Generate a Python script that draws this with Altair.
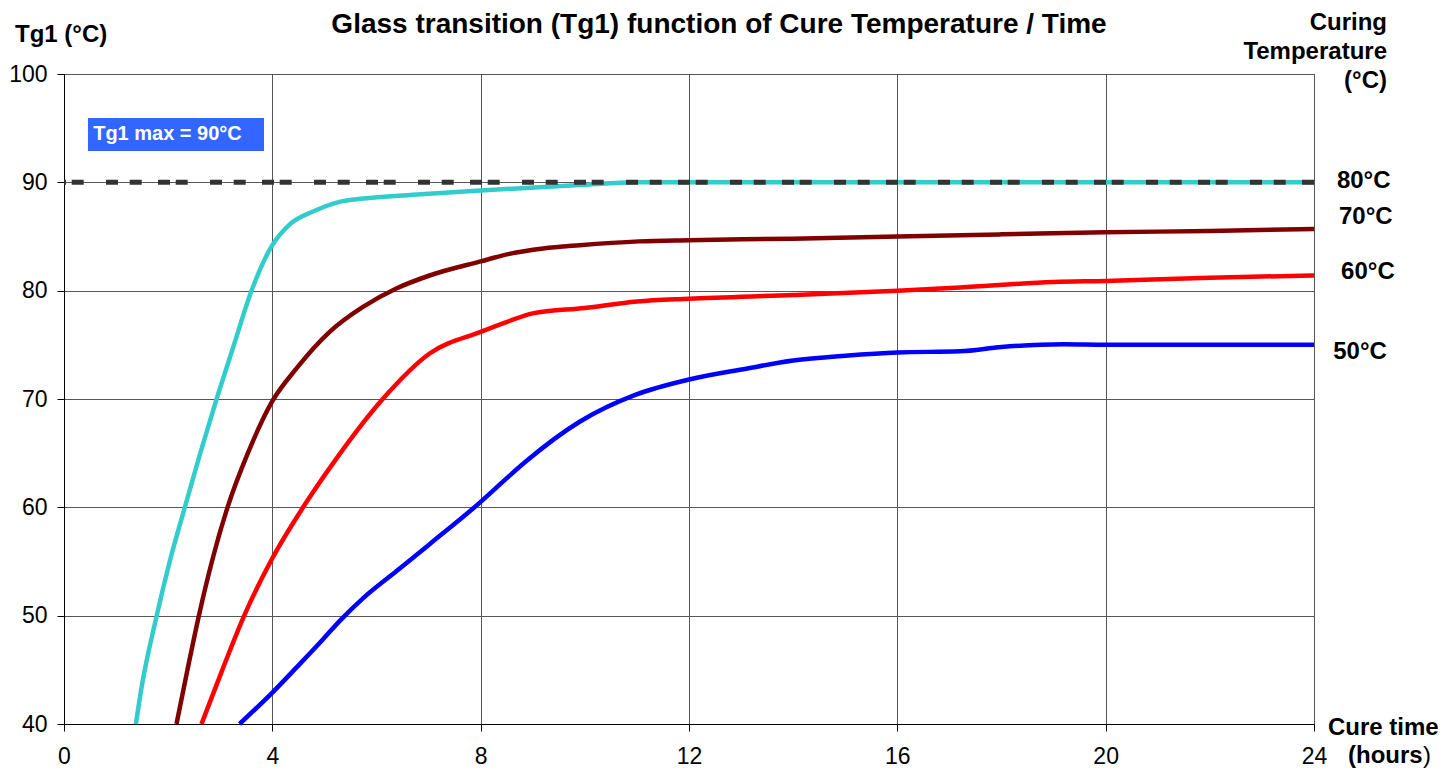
import altair as alt
import pandas as pd

# ---------------- data ----------------
series_names = ["80°C", "70°C", "60°C", "50°C"]
series_colors = ["#33CCCC", "#800000", "#FF0000", "#0000FF"]

hours_80 = [1.38, 1.49, 1.78, 2.03, 2.32, 2.61, 2.93, 3.25, 3.6, 4.0, 4.33, 4.78, 5.29, 5.74, 6.7, 8.0, 9.9, 11.0, 12, 16, 20, 24]
tg_80 = [40, 43.4, 50, 55, 60, 64.9, 70, 74.8, 80, 84.2, 86.1, 87.3, 88.2, 88.5, 88.85, 89.25, 89.75, 90, 90, 90, 90, 90]

hours_70 = [2.16, 2.37, 2.59, 2.84, 3.14, 3.53, 4.0, 4.46, 5.1, 5.74, 6.38, 7.02, 8.0, 8.55, 9.2, 9.9, 11.04, 12, 14, 16, 18, 20, 22, 24]
tg_70 = [40, 45, 50, 55, 60, 65, 69.8, 72.8, 76.2, 78.5, 80.2, 81.4, 82.7, 83.4, 83.9, 84.2, 84.55, 84.66, 84.8, 85.0, 85.2, 85.4, 85.5, 85.7]

hours_60 = [2.64, 3.04, 3.46, 4.0, 4.59, 5.23, 6.12, 7.02, 8.0, 8.55, 9, 10, 11, 12, 14, 16, 17.2, 19, 20, 22, 24]
tg_60 = [40, 45, 50, 55.3, 60, 64.5, 70, 74.2, 76.2, 77.2, 77.9, 78.4, 79.0, 79.26, 79.6, 80.0, 80.3, 80.8, 80.9, 81.2, 81.4]

hours_50 = [3.37, 4.0, 4.46, 4.97, 5.29, 5.74, 6.38, 7.02, 8.0, 8.55, 8.86, 9.9, 10.98, 12, 13.1, 14, 15, 16, 17.2, 18, 19.2, 20, 24]
tg_50 = [40, 42.9, 45.2, 47.8, 49.5, 51.6, 54.1, 56.6, 60.5, 62.9, 64.2, 67.9, 70.4, 71.8, 72.8, 73.55, 74.0, 74.3, 74.4, 74.8, 75.05, 75.0, 75.0]

x_ticks = [0, 4, 8, 12, 16, 20, 24]
y_ticks = [40, 50, 60, 70, 80, 90, 100]

tg_max = [90]

# end-of-line labels (x in hours, y in °C)
label_text = ["80°C", "70°C", "60°C", "50°C"]
label_x = [24.44, 24.48, 24.52, 24.37]
label_y = [90.1, 86.8, 81.7, 74.3]

# "Tg1 max" annotation box (data coordinates)
box_x = [0.46]
box_x2 = [3.84]
box_y = [92.9]
box_y2 = [95.94]
box_text = ["Tg1 max = 90°C"]
box_text_x = [0.56]
box_text_y = [94.5]

# ---------------- build ----------------
rows = []
for name, hs, ts in [("80°C", hours_80, tg_80), ("70°C", hours_70, tg_70),
                     ("60°C", hours_60, tg_60), ("50°C", hours_50, tg_50)]:
    for i, (h, t) in enumerate(zip(hs, ts)):
        rows.append({"series": name, "hours": h, "tg": t, "order": i})
df = pd.DataFrame(rows)

FONT = "Liberation Sans"

x_scale = alt.Scale(domain=[0, 24], nice=False, zero=False)
y_scale = alt.Scale(domain=[40, 100], nice=False, zero=False)

x_axis = alt.Axis(values=x_ticks, title=None, labelFont=FONT, labelFontSize=23, labelColor="black",
                  tickSize=7, tickColor="black", domainColor="black", labelPadding=14,
                  gridColor="#555555", gridWidth=1, labelFlush=False, labelOverlap=False, format="d")
y_axis = alt.Axis(values=y_ticks, title=None, labelFont=FONT, labelFontSize=23, labelColor="black",
                  tickSize=7, tickColor="black", domainColor="black", labelPadding=10,
                  gridColor="#555555", gridWidth=1, labelOverlap=False, format="d")


def X(field):
    return alt.X(field, type="quantitative", scale=x_scale, axis=x_axis)


def Y(field):
    return alt.Y(field, type="quantitative", scale=y_scale, axis=y_axis)


lines = alt.Chart(df).mark_line(interpolate="monotone", strokeWidth=4.5).encode(
    x=X("hours"),
    y=Y("tg"),
    color=alt.Color("series:N", scale=alt.Scale(domain=series_names, range=series_colors), legend=None),
    order=alt.Order("order:Q"),
)

max_df = pd.DataFrame({"tg": tg_max})
max_rule = alt.Chart(max_df).mark_rule(
    strokeDash=[12, 16.3, 12, 11.7, 12, 22.3, 12, 5.7], strokeWidth=5, color="#333333"
).encode(y=Y("tg"))

box_df = pd.DataFrame({"hours": box_x, "hours2": box_x2, "tg": box_y, "tg2": box_y2})
box = alt.Chart(box_df).mark_rect(color="#3366FF").encode(
    x=X("hours"), x2="hours2:Q", y=Y("tg"), y2="tg2:Q"
)

box_txt_df = pd.DataFrame({"hours": box_text_x, "tg": box_text_y, "t": box_text})
box_txt = alt.Chart(box_txt_df).mark_text(
    align="left", baseline="middle", font=FONT, fontSize=20, fontWeight="bold", color="white"
).encode(x=X("hours"), y=Y("tg"), text="t:N")

lab_df = pd.DataFrame({"hours": label_x, "tg": label_y, "t": label_text})
labels = alt.Chart(lab_df).mark_text(
    align="left", baseline="middle", font=FONT, fontSize=24, fontWeight="bold", color="black"
).encode(x=X("hours"), y=Y("tg"), text="t:N")


def ptext(txt, x, y, align="left", size=24, weight="bold"):
    return alt.Chart(pd.DataFrame({"t": [txt]})).mark_text(
        align=align, baseline="alphabetic", font=FONT, fontSize=size, fontWeight=weight, color="black"
    ).encode(x=alt.value(x), y=alt.value(y), text="t:N")


title = ptext("Glass transition (Tg1) function of Cure Temperature / Time", 655, -41, align="center", size=28)
ytitle = ptext("Tg1 (°C)", -49, -32)
r1 = ptext("Curing", 1323, -44, align="right")
r2 = ptext("Temperature", 1323, -15, align="right")
r3 = ptext("(°C)", 1323, 14, align="right")
xt1 = ptext("Cure time", 1264, 661)
xt2 = ptext("(hours", 1284, 689)
xt3 = ptext(")", 1359, 689, weight="normal")

chart = alt.layer(
    lines, max_rule, box, box_txt, labels, title, ytitle, r1, r2, r3, xt1, xt2, xt3
).properties(
    width=1250,
    height=650,
    autosize=alt.AutoSizeParams(type="none"),
    padding={"left": 56, "top": 66, "right": 124, "bottom": 44},
).configure(font=FONT).configure_view(stroke="#808080", strokeWidth=1)

chart.save("out.html", embed_options={"renderer": "svg", "actions": False})
